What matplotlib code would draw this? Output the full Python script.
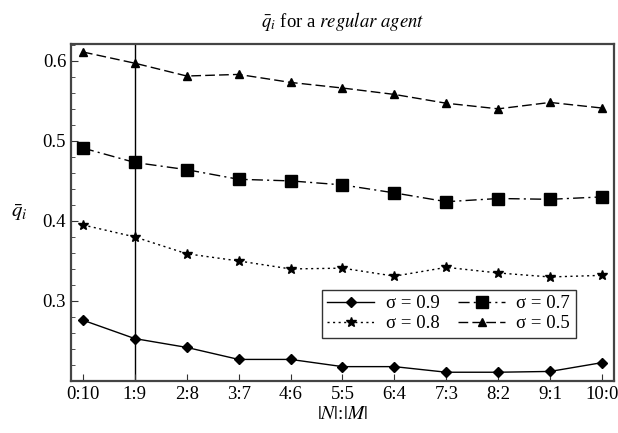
import matplotlib
matplotlib.use("Agg")
import matplotlib.pyplot as plt
from matplotlib.ticker import MultipleLocator

plt.rcParams['font.family'] = ['Liberation Serif', 'DejaVu Serif']
plt.rcParams['mathtext.fontset'] = 'stix'

ratios = ["0:10", "1:9", "2:8", "3:7", "4:6", "5:5", "6:4", "7:3", "8:2", "9:1", "10:0"]
q_s09 = [0.276, 0.253, 0.242, 0.227, 0.227, 0.218, 0.218, 0.211, 0.211, 0.212, 0.223]
q_s07 = [0.491, 0.473, 0.464, 0.452, 0.450, 0.445, 0.435, 0.424, 0.428, 0.427, 0.430]
q_s08 = [0.395, 0.380, 0.359, 0.350, 0.340, 0.341, 0.331, 0.342, 0.335, 0.330, 0.332]
q_s05 = [0.611, 0.597, 0.581, 0.583, 0.573, 0.566, 0.558, 0.547, 0.540, 0.548, 0.541]
y_ticks = [0.3, 0.4, 0.5, 0.6]

x = list(range(len(ratios)))

fig = plt.figure(figsize=(6.18, 4.33), dpi=100)
ax = fig.add_axes([0.1149, 0.120, 0.8786, 0.7784])

ax.axvline(1, color='black', lw=1.0, zorder=1)

l09, = ax.plot(x, q_s09, '-', color='black', lw=1.0, marker='D', ms=5, label=r'σ = 0.9')
l07, = ax.plot(x, q_s07, color='black', lw=1.0, ls=(0, (8, 3, 1.5, 3)), marker='s', ms=8.5, label=r'σ = 0.7')
l08, = ax.plot(x, q_s08, color='black', lw=1.0, ls=(0, (1.5, 2.5)), marker='*', ms=7.5, label=r'σ = 0.8')
l05, = ax.plot(x, q_s05, color='black', lw=1.0, ls=(0, (7, 3)), marker='^', ms=6, label=r'σ = 0.5')

ax.set_xlim(-0.23, 10.23)
ax.set_ylim(0.2, 0.621)
ax.set_xticks(x)
ax.set_xticklabels(ratios)
ax.set_yticks(y_ticks)
ax.yaxis.set_minor_locator(MultipleLocator(0.02))
ax.tick_params(axis='both', which='both', direction='in', labelsize=13.5, color='#333333')
ax.tick_params(axis='both', which='major', length=5)
ax.tick_params(axis='y', which='minor', length=3)
ax.tick_params(axis='x', which='minor', bottom=False)

for s in ax.spines.values():
    s.set_color('#444444')
    s.set_linewidth(1.6)

ax.set_title(r'$\bar{q}_i$ for a $\mathit{regular\ agent}$', fontsize=13.5, pad=12)
ax.set_xlabel(r'$|N|$:$|M|$', fontsize=14, labelpad=2)
ax.set_ylabel(r'$\bar{q}_i$', fontsize=15, rotation=0)
ax.yaxis.set_label_coords(-0.095, 0.47)

leg = ax.legend(handles=[l09, l08, l07, l05], ncol=2, loc='lower left',
                bbox_to_anchor=(0.462, 0.128), fontsize=13.5, frameon=True,
                fancybox=False, edgecolor='black', handlelength=2.5,
                columnspacing=1.0, handletextpad=0.6, borderpad=0.3,
                labelspacing=0.15, numpoints=1, borderaxespad=0)
leg.get_frame().set_linewidth(1.0)

fig.savefig('out.png', dpi=100)
